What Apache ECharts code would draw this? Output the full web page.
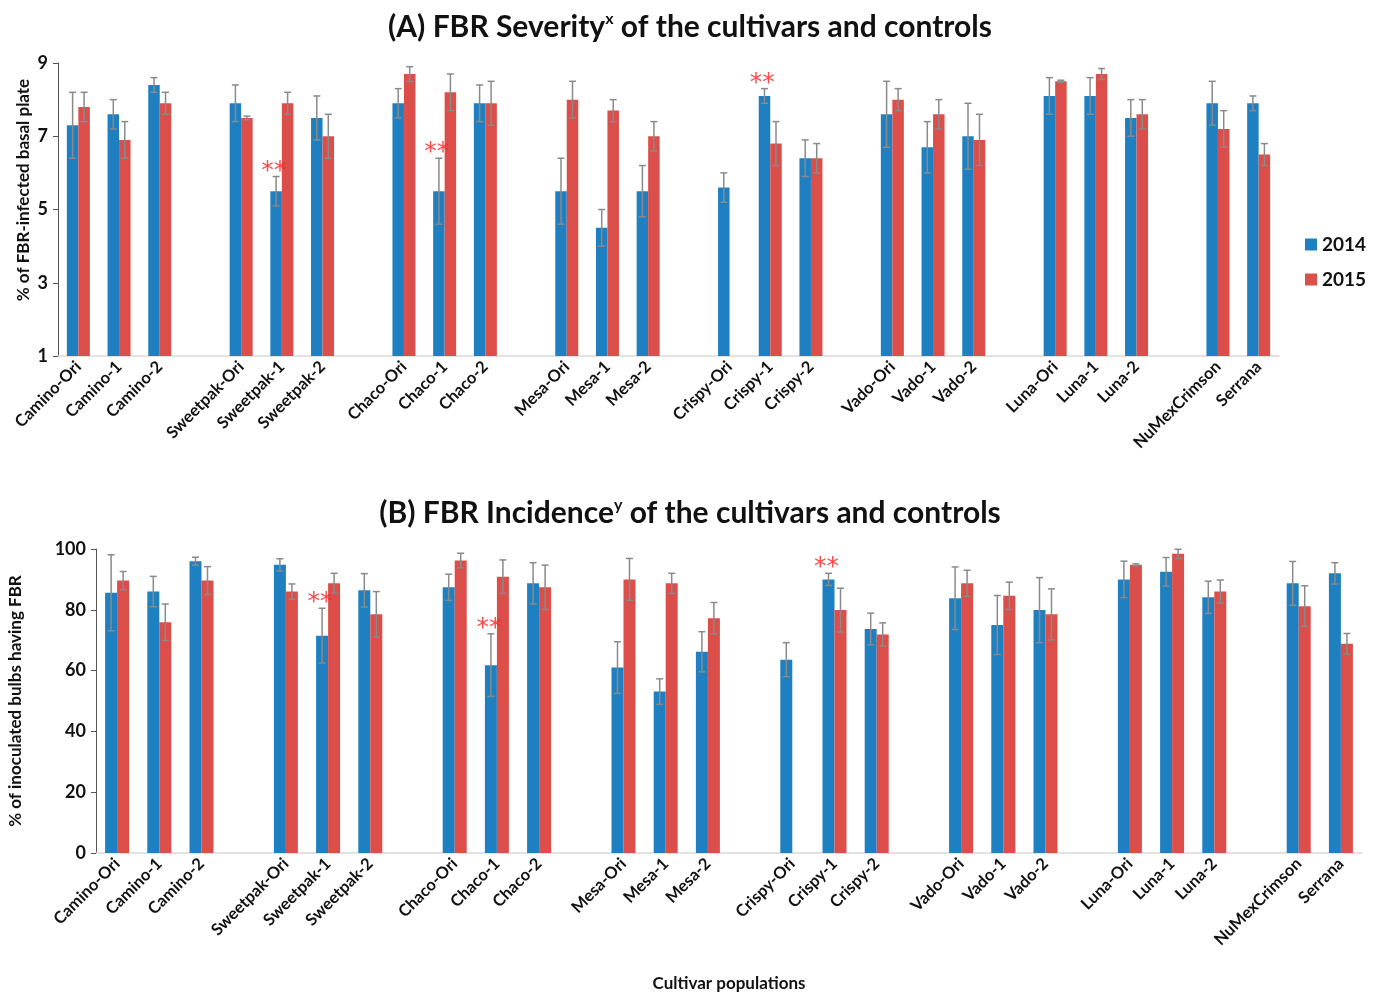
<!DOCTYPE html>
<html>
<head>
<meta charset="utf-8">
<script src="https://cdn.jsdelivr.net/npm/echarts@6/dist/echarts.min.js"></script>
<style>
  html, body { margin: 0; padding: 0; background: #fff; }
  #chart { width: 1380px; height: 992px; }
</style>
</head>
<body>
<div id="chart"></div>
<script>
// categories, '' = gap between cultivar groups
const categories = [
    'Camino-Ori', 'Camino-1', 'Camino-2', '',
    'Sweetpak-Ori', 'Sweetpak-1', 'Sweetpak-2', '',
    'Chaco-Ori', 'Chaco-1', 'Chaco-2', '',
    'Mesa-Ori', 'Mesa-1', 'Mesa-2', '',
    'Crispy-Ori', 'Crispy-1', 'Crispy-2', '',
    'Vado-Ori', 'Vado-1', 'Vado-2', '',
    'Luna-Ori', 'Luna-1', 'Luna-2', '',
    'NuMexCrimson', 'Serrana'
];
/* (A) severity */
const sev2014 = [7.3, 7.6, 8.4, null, 7.9, 5.5, 7.5, null, 7.9, 5.5, 7.9, null, 5.5, 4.5, 5.5, null, 5.6, 8.1, 6.4, null, 7.6, 6.7, 7.0, null, 8.1, 8.1, 7.5, null, 7.9, 7.9];
const sevErr2014 = [0.9, 0.4, 0.2, null, 0.5, 0.4, 0.6, null, 0.4, 0.9, 0.5, null, 0.9, 0.5, 0.7, null, 0.4, 0.2, 0.5, null, 0.9, 0.7, 0.9, null, 0.5, 0.5, 0.5, null, 0.6, 0.2];
const sev2015 = [7.8, 6.9, 7.9, null, 7.5, 7.9, 7.0, null, 8.7, 8.2, 7.9, null, 8.0, 7.7, 7.0, null, null, 6.8, 6.4, null, 8.0, 7.6, 6.9, null, 8.5, 8.7, 7.6, null, 7.2, 6.5];
const sevErr2015 = [0.4, 0.5, 0.3, null, 0.05, 0.3, 0.6, null, 0.2, 0.5, 0.6, null, 0.5, 0.3, 0.4, null, null, 0.6, 0.4, null, 0.3, 0.4, 0.7, null, 0.03, 0.15, 0.4, null, 0.5, 0.3];
/* (B) incidence */
const inc2014 = [85.6, 86, 96, null, 94.8, 71.5, 86.4, null, 87.4, 61.8, 88.7, null, 61, 53.1, 66.2, null, 63.6, 90, 73.7, null, 83.8, 75, 79.9, null, 90, 92.5, 84.1, null, 88.7, 92];
const incErr2014 = [12.5, 5, 1.3, null, 2, 9, 5.5, null, 4.3, 10.3, 6.8, null, 8.5, 4.2, 6.6, null, 5.6, 2, 5.2, null, 10.3, 9.7, 10.7, null, 6, 4.7, 5.3, null, 7.2, 3.5];
const inc2015 = [89.6, 75.9, 89.6, null, 86, 88.7, 78.5, null, 96.2, 90.9, 87.4, null, 90, 88.7, 77.2, null, null, 79.9, 71.9, null, 88.7, 84.6, 78.5, null, 94.8, 98.4, 86, null, 81.2, 68.8];
const incErr2015 = [3, 6, 4.6, null, 2.5, 3.3, 7.5, null, 2.4, 5.5, 7.3, null, 6.9, 3.3, 5.2, null, null, 7.2, 3.8, null, 4.3, 4.5, 8.4, null, 0.3, 1.5, 3.8, null, 6.7, 3.4];
/* significant (**) 2014 bars */
const starred = ['Sweetpak-1', 'Chaco-1', 'Crispy-1'];

const BLUE = '#1f80c1';
const RED = '#dc4e4a';
const FONT = 'Lato';

const chart = echarts.init(document.getElementById('chart'));

function errData (vals, errs) {
    const out = [];
    vals.forEach((v, i) => {
        if (v != null && errs[i] != null) out.push([i, v, errs[i]]);
    });
    return out;
}
function starData (vals, errs) {
    return starred.map(name => {
        const i = categories.indexOf(name);
        return [i, vals[i] + errs[i]];
    });
}
/* error bar drawn as custom series, side -1 = left bar, 1 = right bar */
function errSeries (name, vals, errs, side, bw, axis) {
    return {
        type: 'custom',
        name: name + '-err',
        xAxisIndex: axis,
        yAxisIndex: axis,
        z: 5,
        silent: true,
        data: errData(vals, errs),
        encode: { x: 0, y: 1 },
        renderItem (params, api) {
            const idx = api.value(0);
            const v = api.value(1);
            const e = api.value(2);
            const x = api.coord([idx, v])[0] + side * bw / 2;
            const top = api.coord([idx, v + e])[1];
            const bot = api.coord([idx, v - e])[1];
            const cap = 3.5;
            const st = { stroke: '#8a8a8a', lineWidth: 1.5 };
            return {
                type: 'group',
                children: [
                    { type: 'line', shape: { x1: x, y1: top, x2: x, y2: bot }, style: st },
                    { type: 'line', shape: { x1: x - cap, y1: top, x2: x + cap, y2: top }, style: st },
                    { type: 'line', shape: { x1: x - cap, y1: bot, x2: x + cap, y2: bot }, style: st }
                ]
            };
        }
    };
}
function barSeries (name, vals, color, bw, axis) {
    return {
        type: 'bar',
        name: name,
        xAxisIndex: axis,
        yAxisIndex: axis,
        data: vals,
        barWidth: bw,
        barGap: '0%',
        itemStyle: { color: color },
        clip: true
    };
}
function starSeries (vals, errs, axis) {
    return {
        type: 'scatter',
        name: 'stars' + axis,
        xAxisIndex: axis,
        yAxisIndex: axis,
        symbolSize: 2,
        itemStyle: { color: 'rgba(0,0,0,0)' },
        silent: true,
        z: 6,
        data: starData(vals, errs),
        label: {
            show: true,
            formatter: '**',
            position: 'top',
            offset: [-8, 13],
            color: '#ff1a1a',
            fontSize: 25,
            fontFamily: 'DejaVu Sans'
        }
    };
}

const xLabel = {
    interval: 0,
    rotate: 45,
    margin: 8,
    fontSize: 16.5,
    fontWeight: 'bold',
    fontFamily: FONT,
    color: '#111'
};
const yLabel = { fontSize: 18, fontWeight: 'bold', fontFamily: FONT, color: '#111', margin: 10 };
const nameStyle = { fontSize: 17, fontWeight: 'bold', fontFamily: FONT, color: '#111' };
const titleRich = {
    t: { fontSize: 30, fontWeight: 'bold', fontFamily: FONT, color: '#111' },
    sup: { fontSize: 16, fontWeight: 'bold', fontFamily: FONT, color: '#111', verticalAlign: 'top', padding: [0, 0, 16, 0] }
};

const option = {
    animation: false,
    backgroundColor: '#fff',
    title: [
        {
            text: '{t|(A) FBR Severity}{sup|x}{t| of the cultivars and controls}',
            left: 'center',
            top: 6,
            textStyle: { rich: titleRich }
        },
        {
            text: '{t|(B) FBR Incidence}{sup|y}{t| of the cultivars and controls}',
            left: 'center',
            top: 492,
            textStyle: { rich: titleRich }
        }
    ],
    legend: {
        data: ['2014', '2015'],
        orient: 'vertical',
        left: 1300,
        top: 230,
        itemWidth: 12,
        itemHeight: 12,
        itemGap: 16,
        icon: 'rect',
        textStyle: { fontSize: 19, fontWeight: 'bold', fontFamily: FONT, color: '#111' }
    },
    grid: [
        { left: 58, top: 63, width: 1221, height: 293, outerBoundsMode: 'none' },
        { left: 96, top: 549, width: 1266, height: 304, outerBoundsMode: 'none' }
    ],
    graphic: [
        {
            type: 'text',
            x: 24,
            y: 190,
            rotation: Math.PI / 2,
            style: {
                text: '% of FBR-infected basal plate',
                align: 'center',
                verticalAlign: 'middle',
                fontSize: 17,
                fontWeight: 'bold',
                fontFamily: FONT,
                fill: '#111'
            }
        }
    ],
    xAxis: [
        {
            type: 'category',
            gridIndex: 0,
            data: categories,
            axisLine: { lineStyle: { color: '#d9d9d9', width: 1.5 } },
            axisTick: { show: false },
            axisLabel: xLabel
        },
        {
            type: 'category',
            gridIndex: 1,
            data: categories,
            axisLine: { lineStyle: { color: '#d9d9d9', width: 1.5 } },
            axisTick: { show: false },
            axisLabel: xLabel,
            name: 'Cultivar populations',
            nameLocation: 'middle',
            nameGap: 122,
            nameTextStyle: nameStyle
        }
    ],
    yAxis: [
        {
            type: 'value',
            gridIndex: 0,
            min: 1,
            max: 9,
            interval: 2,
            splitLine: { show: false },
            axisLine: { show: true, lineStyle: { color: '#555' } },
            axisTick: { show: true, length: 5, lineStyle: { color: '#555' } },
            axisLabel: yLabel
        },
        {
            type: 'value',
            gridIndex: 1,
            min: 0,
            max: 100,
            interval: 20,
            splitLine: { show: false },
            axisLine: { show: true, lineStyle: { color: '#555' } },
            axisTick: { show: true, length: 5, lineStyle: { color: '#555' } },
            axisLabel: yLabel,
            name: '% of inoculated bulbs having FBR',
            nameLocation: 'middle',
            nameRotate: 90,
            nameGap: 72,
            nameTextStyle: nameStyle
        }
    ],
    series: [
        barSeries('2014', sev2014, BLUE, 11.5, 0),
        barSeries('2015', sev2015, RED, 11.5, 0),
        errSeries('2014', sev2014, sevErr2014, -1, 11.5, 0),
        errSeries('2015', sev2015, sevErr2015, 1, 11.5, 0),
        starSeries(sev2014, sevErr2014, 0),
        barSeries('2014', inc2014, BLUE, 12, 1),
        barSeries('2015', inc2015, RED, 12, 1),
        errSeries('2014', inc2014, incErr2014, -1, 12, 1),
        errSeries('2015', inc2015, incErr2015, 1, 12, 1),
        starSeries(inc2014, incErr2014, 1)
    ]
};
chart.setOption(option);
</script>
</body>
</html>
